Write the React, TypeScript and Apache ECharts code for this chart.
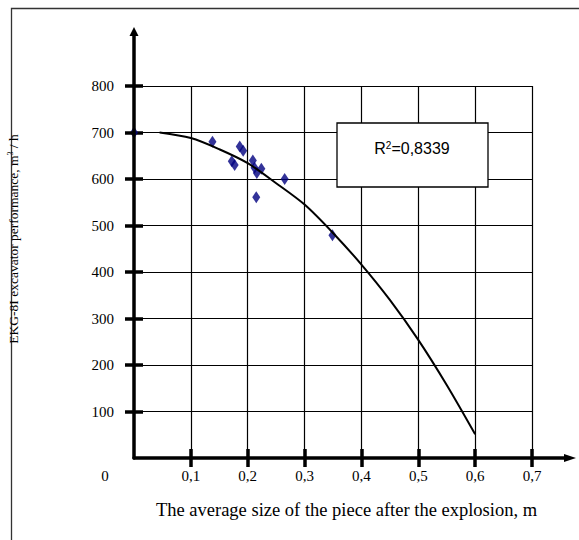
import React, { useEffect, useRef } from "react";
import * as echarts from "echarts";

// Measured points (average piece size, m ; excavator performance, m3/h)
const pieceSize = [0, 0.138, 0.172, 0.177, 0.186, 0.192, 0.209, 0.212, 0.216, 0.224, 0.215, 0.265, 0.349];
const performance = [700, 680, 638, 630, 670, 661, 640, 624, 613, 622, 561, 600, 479];

// Trend curve
const trendSize = [0.045, 0.1, 0.15, 0.2, 0.25, 0.3, 0.35, 0.4, 0.45, 0.5, 0.55, 0.6];
const trendPerf = [700, 688, 664, 634, 591, 545, 484, 416, 340, 254, 157, 51];

const xTicks = [0.1, 0.2, 0.3, 0.4, 0.5, 0.6, 0.7];
const yTicks = [100, 200, 300, 400, 500, 600, 700, 800];
const rSquared = "0,8339";

const xName = "The average size of the piece after the explosion, m";
const yName = "EKG-8I excavator performance, m{sup|3} / h";

const SERIF = "'Liberation Serif', 'Times New Roman', serif";
const SANS = "'Liberation Sans', Arial, sans-serif";

export default function App() {
  const ref = useRef<HTMLDivElement>(null);

  useEffect(() => {
    if (!ref.current) return;
    const chart = echarts.init(ref.current, null, { renderer: "svg" });

    const axisBlack = { color: "#000", width: 3.5 };
    const tickLabel = { fontFamily: SERIF, fontSize: 15, color: "#000" };
    const option: any = {
      animation: false,
      backgroundColor: "#fff",
      textStyle: { fontFamily: SERIF, fontSize: 15, color: "#000" },
      grid: { left: 134, top: 86, right: 47, bottom: 82, containLabel: false, outerBoundsMode: "none" },
      xAxis: [
        {
          type: "value",
          min: 0,
          max: 0.7,
          interval: 0.1,
          position: "bottom",
          z: 5,
          axisLine: { show: true, onZero: false, lineStyle: axisBlack },
          axisTick: { show: true, inside: false, length: 9, customValues: xTicks, lineStyle: axisBlack },
          axisLabel: {
            margin: 10,
            ...tickLabel,
            formatter: (v: number) => (v === 0 ? "{z|0}" : "{n|" + v.toFixed(1).replace(".", ",") + "}"),
            rich: {
              z: { ...tickLabel, padding: [0, 58, 0, 0] },
              n: { ...tickLabel },
            },
          },
          splitLine: { show: false },
          name: xName,
          nameLocation: "middle",
          nameGap: 42,
          nameTextStyle: { fontFamily: SERIF, fontSize: 18.5, color: "#000", padding: [0, 0, 0, 27] },
        },
        {
          type: "value",
          min: 0,
          max: 0.7,
          interval: 0.1,
          position: "bottom",
          z: 0,
          axisLine: { show: false },
          axisTick: { show: true, inside: true, length: 9, customValues: xTicks, lineStyle: axisBlack },
          axisLabel: { show: false },
          splitLine: { show: true, lineStyle: { color: "#000", width: 1.2 } },
        },
      ],
      yAxis: [
        {
          type: "value",
          min: 0,
          max: 800,
          interval: 100,
          position: "left",
          z: 5,
          axisLine: { show: true, onZero: false, lineStyle: axisBlack },
          axisTick: { show: true, inside: false, length: 9, customValues: yTicks, lineStyle: axisBlack },
          axisLabel: {
            margin: 20,
            ...tickLabel,
            formatter: (v: number) => (v === 0 ? "" : "{n|" + v + "}"),
            rich: { n: { ...tickLabel } },
          },
          splitLine: { show: false },
          name: yName,
          nameLocation: "middle",
          nameGap: 114,
          nameTextStyle: {
            fontFamily: SERIF,
            fontSize: 13.5,
            color: "#000",
            padding: [0, 0, 0, 66],
            rich: { sup: { fontFamily: SERIF, fontSize: 8, color: "#000", verticalAlign: "top", lineHeight: 8 } },
          },
        },
        {
          type: "value",
          min: 0,
          max: 800,
          interval: 100,
          position: "left",
          z: 0,
          axisLine: { show: false },
          axisTick: { show: true, inside: true, length: 9, customValues: yTicks, lineStyle: axisBlack },
          axisLabel: { show: false },
          splitLine: { show: true, lineStyle: { color: "#000", width: 1.2 } },
        },
      ],
      series: [
        {
          type: "scatter",
          xAxisIndex: 0,
          yAxisIndex: 0,
          symbol: "diamond",
          symbolSize: [8, 12],
          itemStyle: { color: "#000080" },
          data: pieceSize.map((x, i) => [x, performance[i]]),
          z: 2,
        },
        {
          type: "line",
          xAxisIndex: 0,
          yAxisIndex: 0,
          smooth: 0.3,
          showSymbol: false,
          lineStyle: { color: "#000", width: 2 },
          data: trendSize.map((x, i) => [x, trendPerf[i]]),
          z: 3,
        },
      ],
    };
    chart.setOption(option);

    const o = chart.convertToPixel({ gridIndex: 0 }, [0, 0]) as number[];
    const tr = chart.convertToPixel({ gridIndex: 0 }, [0.7, 800]) as number[];
    const yTop = tr[1] - 59;
    const xEnd = tr[0] + 44;

    chart.setOption({
      graphic: [
        {
          type: "rect",
          shape: { x: 11.5, y: 8.5, width: 700, height: 700 },
          style: { fill: "none", stroke: "#333", lineWidth: 1.3 },
          silent: true,
          z: 0,
        },
        {
          type: "line",
          shape: { x1: o[0], y1: tr[1], x2: o[0], y2: yTop + 6 },
          style: { stroke: "#000", lineWidth: 3.5 },
          z: 10,
        },
        {
          type: "polygon",
          shape: { points: [[o[0], yTop], [o[0] - 4.5, yTop + 9], [o[0] + 4.5, yTop + 9]] },
          style: { fill: "#000" },
          z: 10,
        },
        {
          type: "line",
          shape: { x1: tr[0], y1: o[1], x2: xEnd - 8, y2: o[1] },
          style: { stroke: "#000", lineWidth: 3.5 },
          z: 10,
        },
        {
          type: "polygon",
          shape: { points: [[xEnd, o[1]], [xEnd - 12, o[1] - 4], [xEnd - 12, o[1] + 4]] },
          style: { fill: "#000" },
          z: 10,
        },
        {
          type: "rect",
          shape: { x: 337, y: 123, width: 151, height: 64 },
          style: { fill: "#fff", stroke: "#000", lineWidth: 1.3 },
          z: 20,
        },
        {
          type: "text",
          x: 412,
          y: 148,
          style: {
            text: "R{sup|2}=" + rSquared,
            fontFamily: SANS,
            fontSize: 16,
            fill: "#000",
            align: "center",
            verticalAlign: "middle",
            rich: { sup: { fontFamily: SANS, fontSize: 10, fill: "#000", verticalAlign: "top", lineHeight: 10 } },
          },
          z: 21,
        },
      ],
    });

    return () => chart.dispose();
  }, []);

  return (
    <div
      ref={ref}
      style={{ position: "fixed", left: 0, top: 0, width: 579, height: 540, background: "#fff" }}
    />
  );
}
